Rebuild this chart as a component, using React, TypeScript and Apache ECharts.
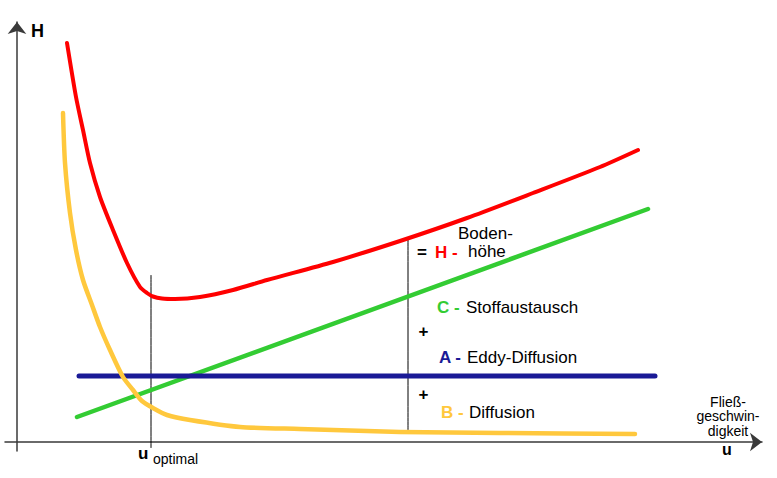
import React, { useEffect, useRef } from "react";
import * as echarts from "echarts";

// Units: u (flow rate) and H (plate height), arbitrary units
const redU = [5.0, 5.9, 6.6, 7.3, 8.3, 9.6, 11.0, 12.3, 13.0, 13.6, 14.5, 15.8, 18.3, 21.6, 25.0, 31.6, 38.3, 45.0, 51.6, 58.3, 62.1];
const redH = [39.9, 34.5, 31.2, 27.9, 24.5, 21.2, 17.9, 15.5, 14.9, 14.55, 14.35, 14.3, 14.5, 15.2, 16.2, 18.0, 20.1, 22.4, 24.9, 27.5, 29.2];

const yellowU = [4.6, 4.8, 5.3, 5.9, 6.6, 7.5, 8.3, 9.3, 10.6, 11.6, 12.5, 13.6, 15.0, 17.3, 22.3, 28.3, 38.3, 48.3, 61.8];
const yellowH = [32.9, 27.9, 22.9, 19.2, 16.2, 13.7, 11.5, 9.2, 6.5, 5.2, 4.1, 3.4, 2.7, 2.2, 1.5, 1.3, 1.0, 0.9, 0.8];

const greenU = [6.0, 63.1];
const greenH = [2.5, 23.3];

const blueU = [6.2, 63.8];
const blueH = [6.6, 6.6];

const optU = [13.4, 13.4];
const optH = [16.7, -0.6];

const sumU = [39.1, 39.1];
const sumH = [20.4, 1.2];

const zip = (a: number[], b: number[]) => a.map((v, i) => [v, b[i]]);

const FONT = '"Liberation Sans", Arial, Helvetica, sans-serif';

export default function App() {
  const ref = useRef<HTMLDivElement>(null);
  useEffect(() => {
    if (!ref.current) return;
    const chart = echarts.init(ref.current, undefined, { renderer: "svg" });
    const line = (data: number[][], color: string, width: number, cap = "round") => ({
      type: "line",
      data,
      symbol: "none",
      smooth: 0.25,
      silent: true,
      lineStyle: { color, width, cap, join: "round" },
    });
    const txt = (text: string, x: number, y: number, size: number, weight: string, fill: string, align = "left", extra: any = {}) => ({
      type: "text",
      x,
      y,
      silent: true,
      style: {
        text,
        font: `${weight} ${size}px ${FONT}`,
        fill,
        textAlign: align,
        textVerticalAlign: "middle",
        ...extra,
      },
    });
    const RED = "#ff0000";
    const GREEN = "#33cc33";
    const BLUE = "#1a1a96";
    const YELLOW = "#ffc83d";
    chart.setOption({
      animation: false,
      backgroundColor: "#ffffff",
      grid: { left: 5, right: 15, top: 22, bottom: 27 },
      xAxis: {
        type: "value",
        min: -1.2,
        max: 74.5,
        axisLine: {
          show: true,
          onZero: true,
          symbol: ["none", "arrow"],
          symbolSize: [14, 12],
          lineStyle: { color: "#3a3a3a", width: 1.5 },
        },
        axisTick: { show: false },
        axisLabel: { show: false },
        splitLine: { show: false },
      },
      yAxis: {
        type: "value",
        min: -0.9,
        max: 42.0,
        axisLine: {
          show: true,
          onZero: true,
          symbol: ["none", "arrow"],
          symbolSize: [14, 12],
          lineStyle: { color: "#3a3a3a", width: 1.5 },
        },
        axisTick: { show: false },
        axisLabel: { show: false },
        splitLine: { show: false },
      },
      series: [
        line(zip(optU, optH), "#000000", 1, "butt"),
        line(zip(sumU, sumH), "#000000", 1, "butt"),
        line(zip(greenU, greenH), GREEN, 4.5),
        line(zip(blueU, blueH), BLUE, 5),
        line(zip(yellowU, yellowH), YELLOW, 4.5),
        line(zip(redU, redH), RED, 4),
      ],
      graphic: [
        txt("H", 31, 31, 18, "bold", "#000"),
        txt("u", 138, 453, 17, "bold", "#000"),
        txt("optimal", 153, 459, 14, "normal", "#000"),
        txt("u", 722, 449.5, 16, "bold", "#000"),
        txt("Fließ-\ngeschwin-\ndigkeit", 728, 416, 14, "normal", "#000", "center", { lineHeight: 14.5 }),
        txt("Boden-", 458, 233.5, 17, "normal", "#000"),
        txt("=", 417, 252, 17, "bold", "#000"),
        txt("H -", 435, 252, 17, "bold", RED),
        txt("höhe", 468, 251, 17, "normal", "#000"),
        txt("C -", 437, 307, 17, "bold", GREEN),
        txt("Stoffaustausch", 466, 307, 17, "normal", "#000"),
        txt("+", 423.5, 331, 17, "bold", "#000", "center"),
        txt("A -", 439, 357, 17, "bold", BLUE),
        txt("Eddy-Diffusion", 467, 357, 17, "normal", "#000"),
        txt("+", 423.5, 394, 17, "bold", "#000", "center"),
        txt("B -", 441, 412, 17, "bold", YELLOW),
        txt("Diffusion", 469, 412, 17, "normal", "#000"),
      ],
    });
    return () => chart.dispose();
  }, []);
  return (
    <div
      ref={ref}
      style={{ position: "absolute", left: 0, top: 0, width: 777, height: 478, background: "#fff" }}
    />
  );
}
